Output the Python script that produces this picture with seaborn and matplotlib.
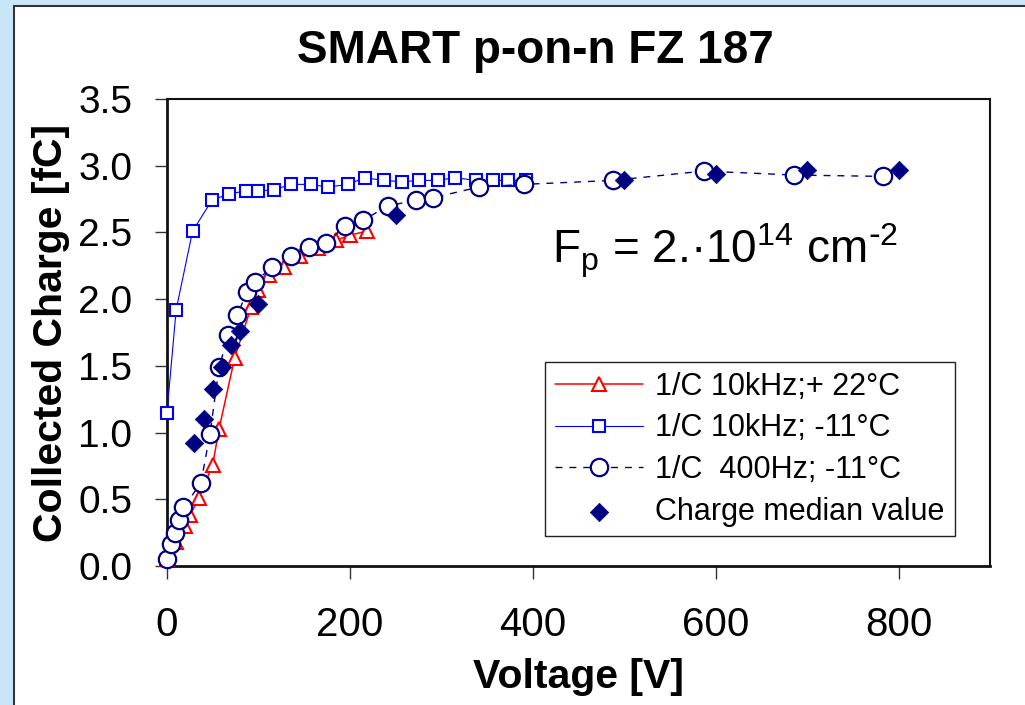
import matplotlib
matplotlib.use("Agg")
import matplotlib.pyplot as plt
from matplotlib.patches import Rectangle
import seaborn as sns
import pandas as pd

# ---- data ----
tri_v = [0, 10, 20, 25, 35, 50, 57, 74, 92, 100, 112, 128, 145, 165, 185, 200, 219]
tri_q = [0.05, 0.18, 0.30, 0.38, 0.51, 0.76, 1.03, 1.56, 1.94, 2.07, 2.18, 2.24, 2.32, 2.38, 2.44, 2.48, 2.51]

sq_v = [0, 10, 28, 49, 68, 86, 99, 117, 136, 157, 176, 198, 216, 237, 257, 276, 296, 315, 338, 357, 373, 393]
sq_q = [1.15, 1.92, 2.51, 2.74, 2.79, 2.81, 2.81, 2.82, 2.86, 2.86, 2.84, 2.86, 2.91, 2.89, 2.88, 2.89,
        2.89, 2.91, 2.89, 2.89, 2.89, 2.89]

circ_v = [0, 4, 9, 13.5, 18, 37, 47, 57, 67, 77, 87, 96, 115, 136, 155, 174, 195, 214, 242, 272, 291,
          341, 390, 488, 587, 686, 783]
circ_q = [0.05, 0.165, 0.245, 0.345, 0.44, 0.62, 0.99, 1.49, 1.73, 1.88, 2.05, 2.13, 2.24, 2.32, 2.39,
          2.42, 2.55, 2.59, 2.70, 2.74, 2.76, 2.84, 2.86, 2.89, 2.96, 2.93, 2.92]

dia_v = [30, 40, 50, 60, 70, 80, 100, 250, 500, 600, 700, 800]
dia_q = [0.92, 1.10, 1.33, 1.49, 1.66, 1.76, 1.96, 2.63, 2.89, 2.94, 2.97, 2.97]

labels = ["1/C 10kHz;+ 22°C", "1/C 10kHz; -11°C", "1/C  400Hz; -11°C", "Charge median value"]
x_ticks = [0, 200, 400, 600, 800]
y_ticks = [0.0, 0.5, 1.0, 1.5, 2.0, 2.5, 3.0, 3.5]

# ---- style ----
sns.set_style("ticks")
plt.rcParams["font.family"] = ["Liberation Sans", "DejaVu Sans"]
plt.rcParams["mathtext.default"] = "regular"
for k in ["text.color", "axes.labelcolor", "xtick.color", "ytick.color"]:
    plt.rcParams[k] = "black"

W, H = 1025, 705
fig = plt.figure(figsize=(W / 100, H / 100), dpi=100)
fig.patch.set_facecolor("#c8e6f8")
panel = Rectangle((14 / W, -0.1), 1.2, 1.1 - 6 / H, transform=fig.transFigure,
                  facecolor="white", edgecolor="#333333", lw=1.5, zorder=-10)
fig.add_artist(panel)

ax = fig.add_axes([167 / W, 1 - 566 / H, 823 / W, 467 / H])
ax.set_facecolor("white")

navy = "#000080"
df_t = pd.DataFrame({"V": tri_v, "Q": tri_q})
df_s = pd.DataFrame({"V": sq_v, "Q": sq_q})
df_c = pd.DataFrame({"V": circ_v, "Q": circ_q})
df_d = pd.DataFrame({"V": dia_v, "Q": dia_q})

sns.lineplot(data=df_t, x="V", y="Q", ax=ax, estimator=None, sort=False, color="#ff0000", lw=1.1,
             marker="^", markersize=9.5, markerfacecolor="white", markeredgecolor="#ff0000",
             markeredgewidth=1.5, label=labels[0], clip_on=False, zorder=3)
sns.lineplot(data=df_s, x="V", y="Q", ax=ax, estimator=None, sort=False, color="#0000ff", lw=0.8,
             marker="s", markersize=9, markerfacecolor="white", markeredgecolor="#0000ff",
             markeredgewidth=1.5, label=labels[1], clip_on=False, zorder=4)
sns.lineplot(data=df_c, x="V", y="Q", ax=ax, estimator=None, sort=False, color=navy, lw=1.0,
             linestyle=(0, (5, 5)), marker="o", markersize=12.5, markerfacecolor="white",
             markeredgecolor=navy, markeredgewidth=1.6, label=labels[2], clip_on=False, zorder=5)
sns.scatterplot(data=df_d, x="V", y="Q", ax=ax, marker="D", s=88, color=navy, edgecolor=navy,
                linewidth=0.5, label=labels[3], clip_on=False, zorder=6)

ax.set_xlim(0, 900)
ax.set_ylim(0, 3.5)
ax.set_xticks(x_ticks)
ax.set_xticklabels([str(v) for v in x_ticks])
ax.set_yticks(y_ticks)
ax.set_yticklabels([f"{v:.1f}" for v in y_ticks])
ax.tick_params(axis="x", direction="out", length=9, width=1, labelsize=29, pad=20, color="#333333")
ax.tick_params(axis="y", direction="out", length=9, width=1, labelsize=28, pad=16, color="#333333")

for side in ["left", "bottom"]:
    ax.spines[side].set_linewidth(2.0)
    ax.spines[side].set_color("#111111")
for side in ["top", "right"]:
    ax.spines[side].set_linewidth(1.5)
    ax.spines[side].set_color("#111111")
    ax.spines[side].set_visible(True)

ax.set_xlabel("Voltage [V]", fontsize=29.5, fontweight="bold", labelpad=10)
ax.set_ylabel("Collected Charge [fC]", fontsize=29.5, fontweight="bold", labelpad=6)

fig.text(535 / W, 1 - 63 / H, "SMART p-on-n FZ 187", fontsize=33, fontweight="bold",
         ha="center", va="baseline")

ax.text(421, 2.27, r"F$_p$ = 2.·10$^{14}$ cm$^{\text{-}2}$", fontsize=33, ha="left", va="baseline")

leg = ax.legend(loc="upper left", bbox_to_anchor=(0.459, 0.437), borderaxespad=0,
                fontsize=22, handlelength=2.9, handletextpad=0.4, borderpad=0.32,
                labelspacing=0.38, frameon=True, fancybox=False, framealpha=1,
                edgecolor="#222222", scatterpoints=1)
leg.get_frame().set_linewidth(1.0)

fig.savefig("out.png", dpi=100, facecolor=fig.get_facecolor())
